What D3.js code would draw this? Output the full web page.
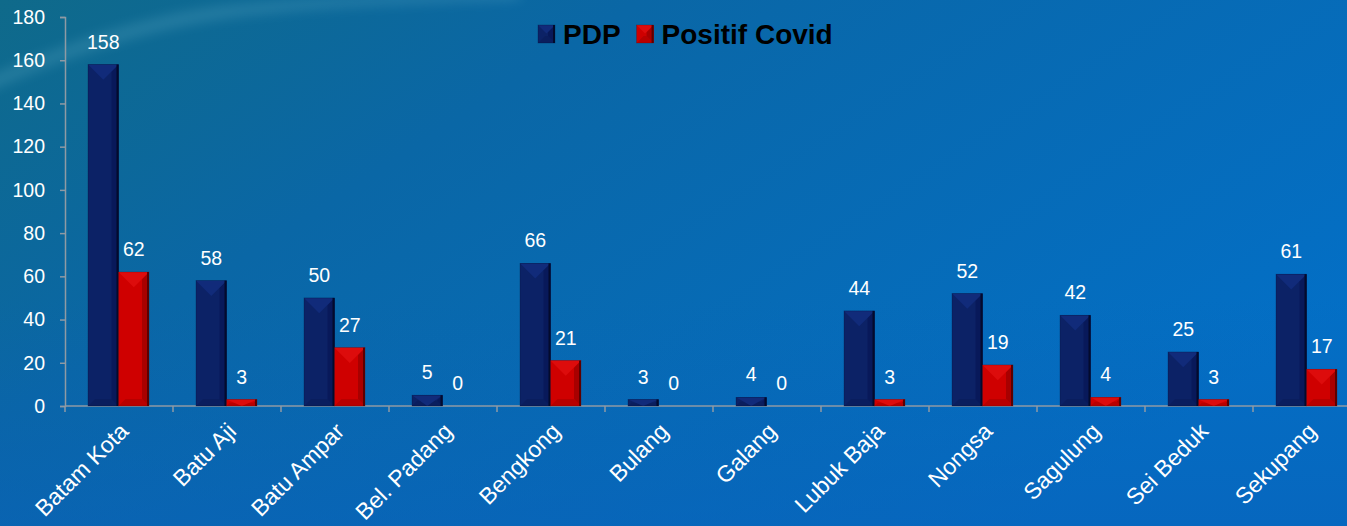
<!DOCTYPE html>
<html>
<head>
<meta charset="utf-8">
<script src="https://cdnjs.cloudflare.com/ajax/libs/d3/7.8.5/d3.min.js"></script>
<style>
  html, body { margin: 0; padding: 0; overflow: hidden; background: #0a66b0; }
  svg { display: block; font-family: "Liberation Sans", Arial, sans-serif; }
</style>
</head>
<body>
<script>
const width = 1347;
const height = 526;

const kecamatan = ["Batam Kota", "Batu Aji", "Batu Ampar", "Bel. Padang", "Bengkong", "Bulang",
  "Galang", "Lubuk Baja", "Nongsa", "Sagulung", "Sei Beduk", "Sekupang"];
const pdp = [158, 58, 50, 5, 66, 3, 4, 44, 52, 42, 25, 61];
const positif = [62, 3, 27, 0, 21, 0, 0, 3, 19, 4, 3, 17];
const seriesNames = ["PDP", "Positif Covid"];
const yTicks = [0, 20, 40, 60, 80, 100, 120, 140, 160, 180];

// face colours for the bevelled bars: base, top, right, bottom, edge
const faces = {
  "PDP": ["#0c2266", "#112b7a", "#08195a", "#0a1e5e", "#030b2c"],
  "Positif Covid": ["#cf0000", "#dd0c0c", "#a80000", "#b80000", "#5c0000"]
};

const svg = d3.select("body").append("svg")
  .attr("width", width)
  .attr("height", height);

const defs = svg.append("defs");
const bg = defs.append("linearGradient").attr("id", "bg")
  .attr("x1", "0").attr("y1", "0").attr("x2", "1").attr("y2", "0.6");
bg.append("stop").attr("offset", "0").attr("stop-color", "#0f6a8a");
bg.append("stop").attr("offset", "0.35").attr("stop-color", "#0a67a6");
bg.append("stop").attr("offset", "1").attr("stop-color", "#036fc6");
defs.append("filter").attr("id", "blur")
  .append("feGaussianBlur").attr("stdDeviation", 6);

svg.append("rect").attr("width", width).attr("height", height).attr("fill", "url(#bg)");
// soft bottom shade
const shade = defs.append("linearGradient").attr("id", "shade")
  .attr("x1", "0").attr("y1", "0").attr("x2", "0").attr("y2", "1");
shade.append("stop").attr("offset", "0").attr("stop-color", "#0a5fb0").attr("stop-opacity", 0);
shade.append("stop").attr("offset", "1").attr("stop-color", "#0a5fb8").attr("stop-opacity", 0.5);
svg.append("rect").attr("y", 300).attr("width", width).attr("height", 226).attr("fill", "url(#shade)");
// water streak in the top-left
svg.append("path")
  .attr("d", "M-20,95 C60,60 140,30 230,18 C320,6 420,4 520,0 L520,-10 C400,-6 300,-2 220,6 C130,18 50,50 -20,80 Z")
  .attr("fill", "#7fc4d8").attr("opacity", 0.2).attr("filter", "url(#blur)");

const x = d3.scaleBand()
  .domain(kecamatan)
  .range([65, 65 + 12 * 108])
  .padding(0);

const x1 = d3.scaleBand()
  .domain(seriesNames)
  .range([23, 84]);

const y = d3.scaleLinear()
  .domain([0, 180])
  .range([406, 17]);

// y axis
const yAxis = svg.append("g")
  .attr("transform", "translate(65,0)")
  .call(d3.axisLeft(y).tickValues(yTicks).tickSize(5).tickPadding(15));
yAxis.selectAll("path, line").attr("stroke", "#8f9aa4").attr("stroke-width", 1.5);
yAxis.selectAll("text")
  .attr("fill", "#ffffff")
  .style("font-size", "19.5px")
  .style("font-family", "'Liberation Sans', Arial, sans-serif");

// x axis line and boundary ticks
const xAxis = svg.append("g");
xAxis.append("line")
  .attr("x1", x.range()[0]).attr("x2", x.range()[1])
  .attr("y1", y(0)).attr("y2", y(0))
  .attr("stroke", "#8f9aa4").attr("stroke-width", 1.5);
xAxis.selectAll(".bt")
  .data(kecamatan.concat(["__end"]))
  .enter().append("line")
  .attr("x1", d => d === "__end" ? x.range()[1] : x(d))
  .attr("x2", d => d === "__end" ? x.range()[1] : x(d))
  .attr("y1", y(0)).attr("y2", y(0) + 6)
  .attr("stroke", "#8f9aa4").attr("stroke-width", 1.5);

xAxis.selectAll(".cat")
  .data(kecamatan)
  .enter().append("text")
  .attr("transform", d => `translate(${x(d) + x.bandwidth() / 2 + 5},${y(0) + 21}) rotate(-45)`)
  .attr("text-anchor", "end")
  .attr("dy", "0.35em")
  .attr("fill", "#ffffff")
  .style("font-size", "23px")
  .text(d => d);

// bevelled bar
function bevelBar(g, x0, y0, w, h, cols) {
  const xr = x0 + w, yb = y0 + h;
  const b = Math.min(7, h / 2, w / 2);
  const t = Math.min(w / 2, h);
  const pts = a => a.map(p => p.join(",")).join(" ");
  g.append("rect").attr("x", x0).attr("y", y0).attr("width", w).attr("height", h).attr("fill", cols[0]);
  g.append("polygon").attr("points", pts([[x0, yb], [x0 + b, yb - b], [xr - b, yb - b], [xr, yb]])).attr("fill", cols[3]);
  g.append("polygon").attr("points", pts([[xr, y0], [xr - b, y0 + b], [xr - b, yb - b], [xr, yb]])).attr("fill", cols[2]);
  g.append("polygon").attr("points", pts([[x0, y0], [xr, y0], [x0 + w / 2, y0 + t]])).attr("fill", cols[1]);
  g.append("rect").attr("x", xr - 2).attr("y", y0).attr("width", 2).attr("height", h).attr("fill", cols[4]);
  g.append("rect").attr("x", x0).attr("y", y0).attr("width", w).attr("height", h)
    .attr("fill", "none").attr("stroke", cols[4]).attr("stroke-opacity", 0.4).attr("stroke-width", 0.6);
}

const rows = kecamatan.map((k, i) => ({ k, vals: [pdp[i], positif[i]] }));
const groups = svg.selectAll(".grp")
  .data(rows)
  .enter().append("g")
  .attr("transform", d => `translate(${x(d.k)},0)`);

groups.each(function(d) {
  const g = d3.select(this);
  seriesNames.forEach((s, j) => {
    const v = d.vals[j];
    if (v > 0) bevelBar(g, x1(s), y(v), x1.bandwidth(), y(0) - y(v), faces[s]);
    g.append("text")
      .attr("x", x1(s) + x1.bandwidth() / 2)
      .attr("y", y(v) - 16)
      .attr("text-anchor", "middle")
      .attr("fill", "#ffffff")
      .style("font-size", "19.5px")
      .text(v);
  });
});

// legend
const legend = svg.append("g").attr("transform", "translate(538,25)");
let lx = 0;
seriesNames.forEach(s => {
  const item = legend.append("g").attr("transform", `translate(${lx},0)`);
  bevelBar(item, 0, 0, 17, 18, faces[s]);
  const t = item.append("text")
    .attr("x", 25).attr("y", 19)
    .attr("fill", "#000000")
    .style("font-size", "28px")
    .style("font-weight", "bold")
    .text(s);
  lx += 25 + t.node().getComputedTextLength() + 16;
});
</script>
</body>
</html>
